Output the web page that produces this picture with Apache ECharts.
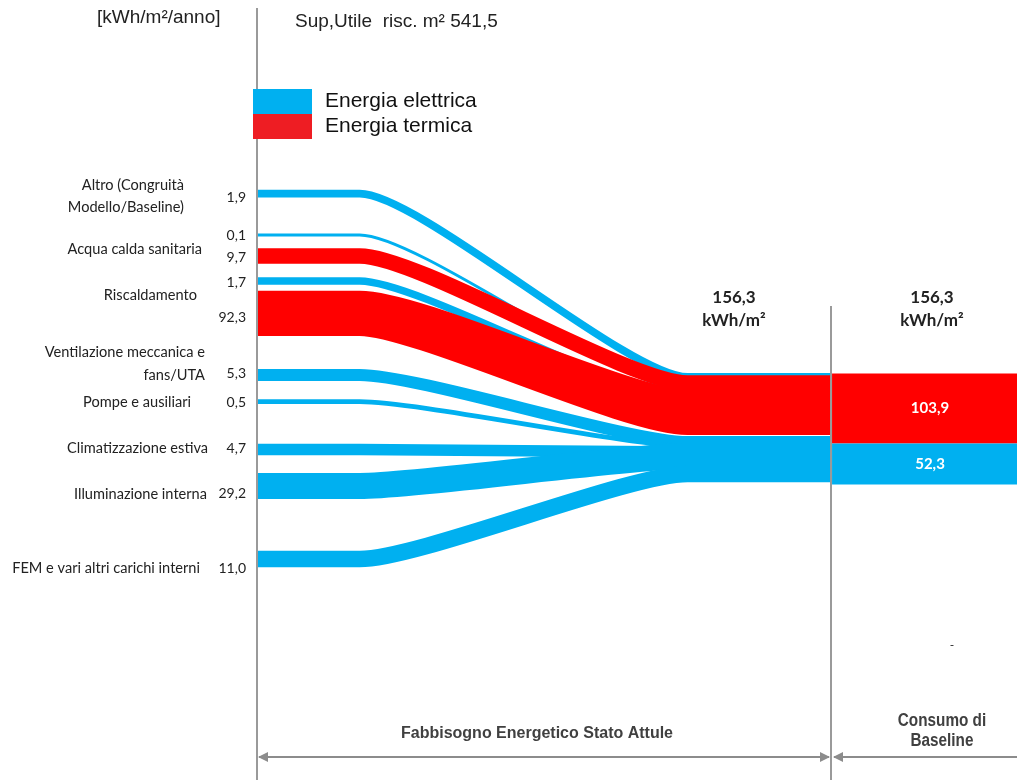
<!DOCTYPE html>
<html>
<head>
<meta charset="utf-8">
<script src="https://cdn.jsdelivr.net/npm/echarts@6/dist/echarts.min.js"></script>
<style>
  html, body { margin: 0; padding: 0; background: #ffffff; }
  #chart { width: 1017px; height: 780px; }
</style>
</head>
<body>
<div id="chart"></div>
<script>
// ---- Dati: fabbisogno per voce [kWh/m²/anno] ----
const categories = [
  'Altro (Congruità\nModello/Baseline)',
  'Acqua calda sanitaria',
  'Riscaldamento',
  'Ventilazione meccanica e\nfans/UTA',
  'Pompe e ausiliari',
  'Climatizzazione estiva',
  'Illuminazione interna',
  'FEM e vari altri carichi interni'
];
// one flow per band, top to bottom
const bandValues   = [1.9, 0.1, 9.7, 1.7, 92.3, 5.3, 0.5, 4.7, 29.2, 11.0];
const bandCarriers = ['elettrica', 'elettrica', 'termica', 'elettrica', 'termica',
                      'elettrica', 'elettrica', 'elettrica', 'elettrica', 'elettrica'];
const totalNames   = ['Energia termica', 'Energia elettrica'];
const totalValues  = [103.9, 52.3];
const totalDemand  = 156.3;
const usefulArea   = 541.5;

// ---- Layout (vertical layout units = 1 per pixel row) ----
const bandStartRow = [193.7, 235, 256, 281, 313.3, 375, 401.7, 449.5, 486, 559];
const bandEndRow   = [377, 392, 383, 400, 412.4, 442, 446, 452, 456, 474];
const valueRow     = [197, 235, 257, 282, 317, 373, 402, 448, 493, 568];
const labelRow     = [196.5, 249, 295, 364, 402, 448, 494, 568];
const labelRight   = [184, 202, 197, 205, 191, 208, 207, 200];
const TOTAL_TOP    = 373.5;
// horizontal stages (0..100 across the plot)
const X_FLAT = 13.4, X_MERGE = 56.6, X_DIVIDE = 75.5, X_END = 100;
const CURVE = 0.18;

const COLORS = { elettrica: '#00B0F0', termica: '#FF0000' };
const LABEL_FONT = 'Lato, "Open Sans", sans-serif';
const ARIAL = '"Liberation Sans", Arial, sans-serif';

// band thickness from value (square-root scale so small flows stay visible)
const bandThickness = v => 1.5 + 4.55 * Math.sqrt(v);
// totals thickness from value
const totalThickness = v => 1.87 * Math.pow(v, 0.78);
const fmt = v => v.toFixed(1).replace('.', ',');

function renderBand(params, api) {
  const i = api.value(0);
  const v = bandValues[i];
  const s = bandStartRow[i], e = bandEndRow[i];
  const p0 = api.coord([0, s]);
  const p1 = api.coord([X_FLAT, s]);
  const p2 = api.coord([X_MERGE, e]);
  const p3 = api.coord([X_DIVIDE, e]);
  const dx = (p2[0] - p1[0]) * CURVE;
  const w = api.size([0, bandThickness(v)])[1];
  const lbl = api.coord([0, valueRow[i]]);
  const d = `M${p0[0]} ${p0[1]} L${p1[0]} ${p1[1]} ` +
            `C${p1[0] + dx} ${p1[1]} ${p2[0] - dx} ${p2[1]} ${p2[0]} ${p2[1]} ` +
            `L${p3[0]} ${p3[1]}`;
  return {
    type: 'group',
    children: [
      {
        type: 'path',
        shape: { pathData: d },
        style: { fill: 'none', stroke: COLORS[bandCarriers[i]], lineWidth: w, lineCap: 'butt', lineJoin: 'round' }
      },
      {
        type: 'text',
        x: lbl[0] - 12, y: lbl[1],
        style: { text: fmt(v), align: 'right', verticalAlign: 'middle',
                 font: '14px ' + LABEL_FONT, fill: '#222' }
      }
    ]
  };
}

function bandSeries(name, carrier) {
  const idx = bandValues.map((_, i) => i).filter(i => bandCarriers[i] === carrier);
  return {
    type: 'custom', name: name,
    itemStyle: { color: COLORS[carrier] },
    coordinateSystem: 'cartesian2d',
    encode: { x: -1, y: -1 },
    dimensions: ['band'],
    clip: false, silent: true,
    data: idx.map(i => [i]),
    renderItem: renderBand
  };
}

const totalColor = { 'Energia termica': COLORS.termica, 'Energia elettrica': COLORS.elettrica };

const option = {
  animation: false,
  backgroundColor: '#ffffff',
  grid: { left: 258, right: 0, top: 0, bottom: 0 },
  xAxis: { type: 'value', min: 0, max: X_END, show: false },
  yAxis: { type: 'value', min: 0, max: 780, inverse: true, show: false },
  legend: {
    left: 253, top: 89, orient: 'vertical', padding: 0,
    itemWidth: 59, itemHeight: 25, itemGap: 0,
    icon: 'rect', selectedMode: false,
    textStyle: { fontFamily: ARIAL, fontSize: 21, lineHeight: 14, color: '#111', padding: [0, 0, 8, 8] },
    data: [
      { name: 'Energia elettrica', itemStyle: { color: COLORS.elettrica } },
      { name: 'Energia termica', itemStyle: { color: '#EE1D23' } }
    ]
  },
  series: [
    // electric flows underneath, thermal flows above
    bandSeries('Energia elettrica', 'elettrica'),
    bandSeries('Energia termica', 'termica'),
    {
      type: 'custom', name: 'categorie',
      coordinateSystem: 'cartesian2d', encode: { x: -1, y: -1 }, dimensions: ['cat'],
      clip: false, silent: true,
      data: categories.map((_, i) => [i]),
      renderItem(params, api) {
        const i = api.value(0);
        const p = api.coord([0, labelRow[i]]);
        return {
          type: 'text', x: labelRight[i], y: p[1],
          style: { text: categories[i], align: 'right', verticalAlign: 'middle',
                   font: '14.6px ' + LABEL_FONT, lineHeight: 22.5, fill: '#222' }
        };
      }
    },
    {
      type: 'custom', name: 'totali',
      coordinateSystem: 'cartesian2d', encode: { x: -1, y: -1 }, dimensions: ['tot'],
      clip: false, silent: true,
      data: totalValues.map((_, i) => [i]),
      renderItem(params, api) {
        const i = api.value(0);
        let top = TOTAL_TOP;
        for (let k = 0; k < i; k++) top += totalThickness(totalValues[k]);
        const h = totalThickness(totalValues[i]);
        const a = api.coord([X_DIVIDE, top]);
        const b = api.coord([X_END, top + h]);
        return {
          type: 'group',
          children: [
            { type: 'rect', shape: { x: a[0] + 1, y: a[1], width: b[0] - a[0], height: b[1] - a[1] },
              style: { fill: totalColor[totalNames[i]] } },
            { type: 'text', x: (a[0] + b[0]) / 2 + 6, y: (a[1] + b[1]) / 2,
              style: { text: fmt(totalValues[i]), align: 'center', verticalAlign: 'middle',
                       font: 'bold 15px ' + LABEL_FONT, fill: '#ffffff' } }
          ]
        };
      }
    }
  ],
  graphic: [
    { type: 'text', left: 97, top: 8,
      style: { text: '[kWh/m²/anno]', font: '19px ' + ARIAL, fill: '#222' } },
    { type: 'text', left: 295, top: 12,
      style: { text: 'Sup,Utile  risc. m² ' + fmt(usefulArea), font: '19px ' + ARIAL, fill: '#222' } },
    // left axis and stage divider
    { type: 'line', shape: { x1: 257, y1: 8, x2: 257, y2: 780 }, style: { stroke: '#9a9a9a', lineWidth: 2 } },
    { type: 'line', shape: { x1: 831, y1: 306, x2: 831, y2: 780 }, style: { stroke: '#9a9a9a', lineWidth: 2 }, z: 10 },
    // totals above each stage
    { type: 'text', x: 734, y: 309,
      style: { text: fmt(totalDemand) + '\nkWh/m²', align: 'center', verticalAlign: 'middle',
               font: 'bold 17px ' + LABEL_FONT, lineHeight: 23, fill: '#222' } },
    { type: 'text', x: 932, y: 309,
      style: { text: fmt(totalDemand) + '\nkWh/m²', align: 'center', verticalAlign: 'middle',
               font: 'bold 17px ' + LABEL_FONT, lineHeight: 23, fill: '#222' } },
    { type: 'text', x: 952, y: 645,
      style: { text: '-', align: 'center', verticalAlign: 'middle', font: '12px ' + LABEL_FONT, fill: '#222' } },
    // stage titles
    { type: 'text', x: 537, y: 734,
      style: { text: 'Fabbisogno Energetico Stato Attule', align: 'center', verticalAlign: 'middle',
               font: 'bold 16px ' + ARIAL, fill: '#404040' } },
    { type: 'text', x: 942, y: 731, scaleX: 0.85,
      style: { text: 'Consumo di\nBaseline', align: 'center', verticalAlign: 'middle',
               font: 'bold 18px ' + ARIAL, lineHeight: 19.5, fill: '#404040' } },
    // dimension arrows
    { type: 'line', shape: { x1: 259, y1: 757, x2: 829, y2: 757 }, style: { stroke: '#8c8c8c', lineWidth: 2 } },
    { type: 'polygon', shape: { points: [[258, 757], [268, 752], [268, 762]] }, style: { fill: '#8c8c8c' } },
    { type: 'polygon', shape: { points: [[830, 757], [820, 752], [820, 762]] }, style: { fill: '#8c8c8c' } },
    { type: 'line', shape: { x1: 834, y1: 757, x2: 1017, y2: 757 }, style: { stroke: '#8c8c8c', lineWidth: 2 } },
    { type: 'polygon', shape: { points: [[833, 757], [843, 752], [843, 762]] }, style: { fill: '#8c8c8c' } }
  ]
};

const chart = echarts.init(document.getElementById('chart'), null, { renderer: 'canvas' });
chart.setOption(option);
</script>
</body>
</html>
